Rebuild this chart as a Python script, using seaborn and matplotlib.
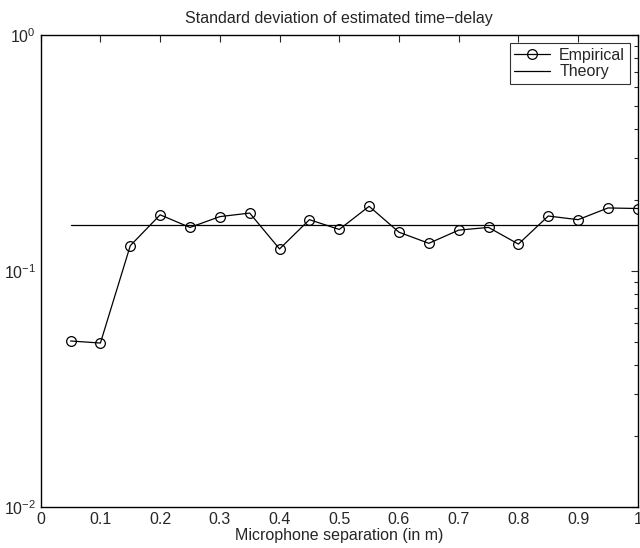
import numpy as np
import pandas as pd
import matplotlib
matplotlib.use("Agg")
import matplotlib.pyplot as plt
import seaborn as sns

sns.set_style("white")
plt.rcParams['font.family'] = ['Liberation Sans', 'DejaVu Sans']
plt.rcParams['mathtext.fontset'] = 'custom'
plt.rcParams['mathtext.rm'] = 'Liberation Sans'
plt.rcParams['mathtext.it'] = 'Liberation Sans:italic'

separation = [0.05, 0.10, 0.15, 0.20, 0.25, 0.30, 0.35, 0.40, 0.45, 0.50,
              0.55, 0.60, 0.65, 0.70, 0.75, 0.80, 0.85, 0.90, 0.95, 1.00]
empirical = [0.0505, 0.0495, 0.128, 0.173, 0.153, 0.170, 0.176, 0.124, 0.165, 0.150,
             0.188, 0.146, 0.131, 0.149, 0.153, 0.130, 0.171, 0.165, 0.185, 0.184]
theory_x = [0.05, 1.00]
theory_y = [0.156, 0.156]

df = pd.DataFrame({'sep': separation, 'std': empirical})
df_theory = pd.DataFrame({'sep': theory_x, 'std': theory_y})

fig = plt.figure(figsize=(6.4, 5.48), dpi=100)
ax = fig.add_axes([0.0636, 0.075, 0.933, 0.861])

sns.lineplot(data=df, x='sep', y='std', ax=ax, color='black', linewidth=0.9,
             marker='o', markersize=7, markerfacecolor='none',
             markeredgecolor='black', markeredgewidth=0.9, label='Empirical')
sns.lineplot(data=df_theory, x='sep', y='std', ax=ax, color='black',
             linewidth=0.9, label='Theory')

ax.set_yscale('log')
ax.set_xlim(0, 1)
ax.set_ylim(1e-2, 1e0)
ax.set_xticks(np.arange(0, 1.01, 0.1))
ax.set_xticklabels(['0', '0.1', '0.2', '0.3', '0.4', '0.5', '0.6', '0.7', '0.8', '0.9', '1'])
ax.tick_params(which='both', direction='in', top=True, right=True,
               labelsize=11.5, length=5, width=0.8)
ax.tick_params(which='minor', length=3)
for s in ax.spines.values():
    s.set_linewidth(1.0)
    s.set_color('black')

ax.set_title('Standard deviation of estimated time\u2212delay', fontsize=11.5, pad=9)
ax.set_xlabel('Microphone separation (in m)', fontsize=11.5, labelpad=1)
ax.set_ylabel('')

leg = ax.legend(loc='upper right', fontsize=11.5, frameon=True, fancybox=False,
                edgecolor='black', borderpad=0.3, handlelength=2.2,
                handletextpad=0.6, labelspacing=0.1, borderaxespad=0.5)
leg.get_frame().set_linewidth(0.8)

fig.savefig('out.png', dpi=100)
